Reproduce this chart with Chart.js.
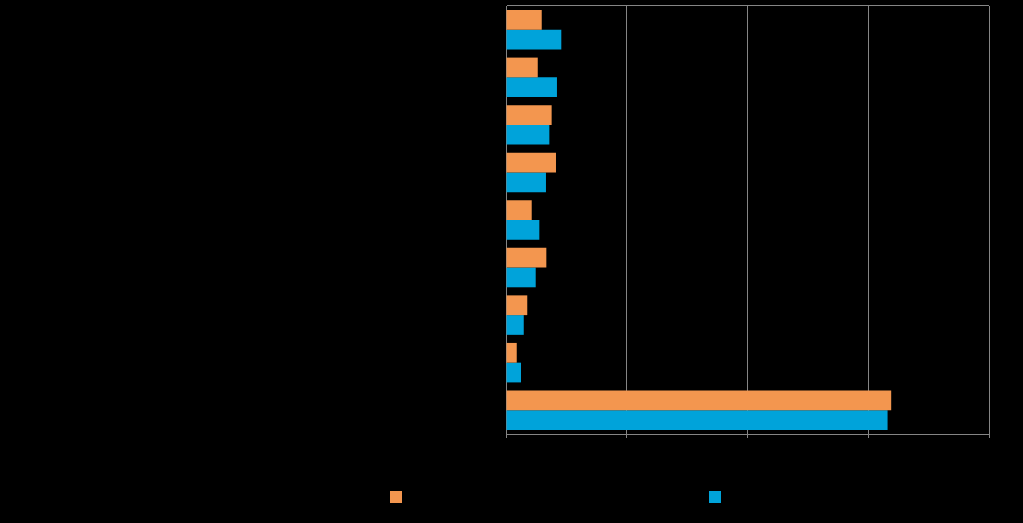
<!DOCTYPE html>
<html lang="en">
<head>
  <meta charset="UTF-8">
  <title>Horizontal bar chart</title>
  <script src="https://cdn.jsdelivr.net/npm/chart.js"></script>
  <style>
    html, body { margin: 0; padding: 0; background: #000; }
    .chart-container { position: relative; width: 1023px; height: 523px; }
  </style>
</head>
<body>
<div class="chart-container">
  <canvas id="barChart"></canvas>
</div>

<script>
  // The source image draws all of its text in black on black, so the real
  // wording can't be read; these labels are placeholders kept in the same colour.
  const categories = ['Category 1', 'Category 2', 'Category 3', 'Category 4', 'Category 5',
                      'Category 6', 'Category 7', 'Category 8', 'Category 9'];
  const seriesNames = ['Series 1 (label not legible in the source image)', 'Series 2'];
  const orangeValues = [2.96, 2.63, 3.78, 4.14, 2.13, 3.34, 1.76, 0.89, 31.9];
  const blueValues   = [4.58, 4.22, 3.59, 3.31, 2.76, 2.46, 1.47, 1.24, 31.6];
  const xTicks = [0, 10, 20, 30, 40];

  const fontFamily = '"Liberation Sans", Arial, sans-serif';
  Chart.defaults.font.family = fontFamily;
  Chart.defaults.font.size = 12;
  Chart.defaults.color = '#000';

  // legend spacing: second box sits 319px after the first one
  const meas = document.createElement('canvas').getContext('2d');
  meas.font = '12px ' + fontFamily;
  const legendPad = Math.max(2, 319 - 12 - 6 - meas.measureText(seriesNames[0]).width);
  const leftPad = 390 - legendPad;
  const gridGrey = '#858585';

  const ctx = document.getElementById('barChart').getContext('2d');
  const barChart = new Chart(ctx, {
    type: 'bar',
    data: {
      labels: categories,
      datasets: [{
        label: seriesNames[0],
        data: orangeValues,
        backgroundColor: '#F3964F',
        categoryPercentage: 0.83,
        barPercentage: 1
      }, {
        label: seriesNames[1],
        data: blueValues,
        backgroundColor: '#00A3DA',
        categoryPercentage: 0.83,
        barPercentage: 1
      }]
    },
    options: {
      indexAxis: 'y',
      responsive: true,
      maintainAspectRatio: false,
      animation: false,
      layout: {
        padding: { top: 6, right: 34, bottom: 10, left: leftPad }
      },
      plugins: {
        legend: {
          position: 'bottom',
          align: 'start',
          labels: {
            boxWidth: 12,
            boxHeight: 12,
            padding: legendPad,
            color: '#000'
          }
        },
        tooltip: { enabled: false }
      },
      scales: {
        x: {
          min: xTicks[0],
          max: xTicks[xTicks.length - 1],
          ticks: { stepSize: xTicks[1] - xTicks[0], color: '#000' },
          grid: { color: gridGrey, lineWidth: 1, tickLength: 4 },
          border: { color: gridGrey },
          afterFit: scale => {
            scale.height = 57 - legendPad;
            scale.paddingLeft = 0;
            scale.paddingRight = 0;
          }
        },
        y: {
          ticks: { color: '#000' },
          grid: {
            // only the top boundary line shows, closing the frame
            color: c => c.index === 0 ? gridGrey : 'rgba(0,0,0,0)',
            drawTicks: false
          },
          border: { color: gridGrey },
          afterFit: scale => {
            scale.width = 506 - leftPad;
            scale.paddingTop = 0;
            scale.paddingBottom = 0;
          }
        }
      }
    }
  });
</script>
</body>
</html>
